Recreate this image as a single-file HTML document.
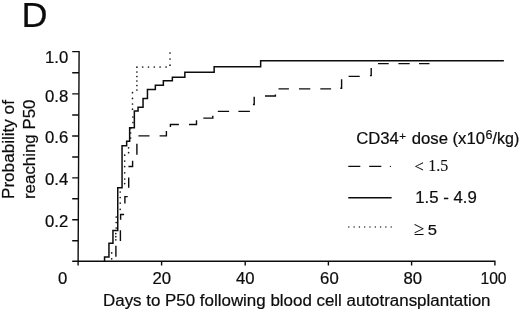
<!DOCTYPE html>
<html>
<head>
<meta charset="utf-8">
<title>Figure D</title>
<style>
html,body{margin:0;padding:0;background:#fff;}
body{width:520px;height:311px;overflow:hidden;position:relative;}
svg{position:absolute;left:0;top:0;display:block;}
text{font-family:"Liberation Sans",sans-serif;fill:#0c0c0c;stroke:#0c0c0c;stroke-width:0.2px;}
.s{font-family:"Liberation Serif",serif;stroke-width:0.1px;}
.ax{stroke:#0c0c0c;stroke-width:1.4;fill:none;}
.ln{stroke:#0c0c0c;stroke-width:1.5;fill:none;stroke-linejoin:miter;}
.da{stroke:#0c0c0c;stroke-width:1.4;fill:none;}
.dt{fill:#1a1a1a;}
</style>
</head>
<body>
<svg width="520" height="311" viewBox="0 0 520 311">
<rect x="0" y="0" width="520" height="311" fill="#fff"/>

<!-- panel letter -->
<text transform="translate(21.6 27.2) scale(1.03 1)" font-size="35" stroke-width="0.3">D</text>
<!-- axes -->
<path class="ax" d="M72.2 51.6H79.1L78.1 265.6M72.2 261.3L494.9 261.1V265.6"/>
<path class="ax" d="M72.2 72.8H79.0M72.2 93.9H78.9M72.2 115.0H78.8M72.2 136.0H78.7M72.2 157.0H78.6M72.2 177.9H78.5M72.2 198.8H78.4M72.2 219.8H78.3M72.2 240.7H78.2"/>
<path class="ax" d="M161.6 261.3V265.6M245.2 261.3V265.6M328.4 261.2V265.6M411.6 261.2V265.6"/>
<!-- y tick labels -->
<text transform="translate(68.3 62.5) scale(1.065 1)" font-size="15.7" text-anchor="end">1.0</text>
<text transform="translate(68.3 101.5) scale(1.065 1)" font-size="15.7" text-anchor="end">0.8</text>
<text transform="translate(68.3 143.4) scale(1.065 1)" font-size="15.7" text-anchor="end">0.6</text>
<text transform="translate(68.3 185.3) scale(1.065 1)" font-size="15.7" text-anchor="end">0.4</text>
<text transform="translate(68.3 227.1) scale(1.065 1)" font-size="15.7" text-anchor="end">0.2</text>
<!-- x tick labels -->
<text transform="translate(62.7 283.8) scale(1.065 1)" font-size="15.7" text-anchor="middle">0</text>
<text transform="translate(161.8 283.8) scale(1.065 1)" font-size="15.7" text-anchor="middle">20</text>
<text transform="translate(245.2 283.8) scale(1.065 1)" font-size="15.7" text-anchor="middle">40</text>
<text transform="translate(329.4 283.8) scale(1.065 1)" font-size="15.7" text-anchor="middle">60</text>
<text transform="translate(412.8 283.8) scale(1.065 1)" font-size="15.7" text-anchor="middle">80</text>
<text transform="translate(493.5 283.8) scale(1.0 1)" font-size="15.7" text-anchor="middle">100</text>
<!-- axis titles -->
<text x="103" y="305.5" font-size="15.8" textLength="387.5" lengthAdjust="spacingAndGlyphs">Days to P50 following blood cell autotransplantation</text>
<text transform="translate(13.5 199) rotate(-90)" font-size="15.8" textLength="98.9" lengthAdjust="spacingAndGlyphs">Probability of</text>
<text transform="translate(35.1 199) rotate(-90)" font-size="15.8" textLength="99.4" lengthAdjust="spacingAndGlyphs">reaching P50</text>
<!-- solid curve: 1.5 - 4.9 -->
<path class="ln" transform="translate(0.35 0.35)" d="M104.2 261.3V256.7H108.6V242.8H112.6V230.2H117.4V187.4H121.7V145.5H126.3V140.8H129.3V127.3H134V110.6H137.7V106.8H142.7V98.2H147.1V89.1H155V85H163V80.5H172V77H184.5V71.8H213.8V66.3H260.3V60.5H503.5"/>
<!-- dashed curve: < 1.5 -->
<path class="da" transform="translate(0.1 0.45)" d="M115.8 256.3V245.2M120.3 240.5V229.7M120.5 219.3V214H124M124.8 203.1V196.2H127.6M128.6 187.4V177M128.3 166H132.5V160.4M136.8 154.3V143.2M138.3 135.4H149.4M159.5 135.4H166.3V130.5M170.3 126.5V124H178.8M188.9 124H196.4V119.7M203.2 117.7H212.7V115.2M217.7 110.9H229M238.3 110.9H249.8M252.8 104H254.1V96.2M264.9 95.6H275.3V94M278.4 88.4H288.8M298.9 88.4H310.2M320.2 88.4H331M340.2 87.8H341.5V78.9M348.5 75.9H359.6M369.8 75.2H371.1V67.6M377.9 63.2H388.6M398.3 63.2H409.6M418.9 63.2H429.4"/>
<!-- dotted curve: >= 5 -->
<g class="dt"><circle cx="111.7" cy="258.8" r="0.85"/><circle cx="111.7" cy="252.9" r="0.85"/><circle cx="115.8" cy="239.8" r="0.85"/><circle cx="115.8" cy="236.7" r="0.85"/><circle cx="115.8" cy="233.6" r="0.85"/><circle cx="116.2" cy="228" r="0.85"/><circle cx="116.2" cy="222.5" r="0.85"/><circle cx="116.2" cy="217" r="0.85"/><circle cx="120.2" cy="209.3" r="0.85"/><circle cx="120.2" cy="203.1" r="0.85"/><circle cx="120.2" cy="197.5" r="0.85"/><circle cx="120.2" cy="192" r="0.85"/><circle cx="124.7" cy="183.6" r="0.85"/><circle cx="124.7" cy="179" r="0.85"/><circle cx="124.7" cy="172.8" r="0.85"/><circle cx="124.7" cy="166.6" r="0.85"/><circle cx="124.7" cy="161.1" r="0.85"/><circle cx="124.7" cy="155.2" r="0.85"/><circle cx="128.6" cy="152.7" r="0.85"/><circle cx="128.6" cy="147.8" r="0.85"/><circle cx="130.6" cy="138" r="0.85"/><circle cx="130.6" cy="133" r="0.85"/><circle cx="130.6" cy="128.5" r="0.85"/><circle cx="132.9" cy="122.5" r="0.85"/><circle cx="132.9" cy="117" r="0.85"/><circle cx="132.5" cy="109.2" r="0.85"/><circle cx="132.5" cy="104" r="0.85"/><circle cx="132.5" cy="98.4" r="0.85"/><circle cx="132.5" cy="92.7" r="0.85"/><circle cx="136.9" cy="90" r="0.85"/><circle cx="136.9" cy="85.5" r="0.85"/><circle cx="136.9" cy="81" r="0.85"/><circle cx="136.9" cy="76.5" r="0.85"/><circle cx="136.9" cy="72" r="0.85"/><circle cx="136.9" cy="67.2" r="0.85"/><circle cx="142.7" cy="67" r="0.85"/><circle cx="148.5" cy="67" r="0.85"/><circle cx="154.3" cy="67" r="0.85"/><circle cx="160.1" cy="67" r="0.85"/><circle cx="166.1" cy="67" r="0.85"/><circle cx="170" cy="65.2" r="0.85"/><circle cx="170" cy="59" r="0.85"/><circle cx="170" cy="53" r="0.85"/></g>
<!-- legend -->
<text transform="translate(356.2 143.6) scale(1.058 1)" font-size="15.8">CD34</text>
<text transform="translate(399.2 140.1) scale(1.0 1)" font-size="11.5">+</text>
<text transform="translate(411.7 143.6) scale(1.058 1)" font-size="15.8">dose (x10</text>
<text transform="translate(485.6 138.6) scale(1.0 1)" font-size="12.5">6</text>
<text transform="translate(492.6 143.6) scale(1.012 1)" font-size="15.8">/kg)</text>
<path class="da" stroke-width="1.3" d="M348.3 166.4H360.3M369.2 166.4H381.3"/>
<circle class="dt" cx="390.4" cy="166.4" r="0.65"/>
<text transform="translate(414.2 171.5) scale(1.0 1)" font-size="17" class="s">&lt;</text>
<text transform="translate(428.2 171.2) scale(1.0 1)" font-size="16" class="s">1.5</text>
<path class="ax" stroke-width="1.5" d="M348.3 197.8H391.6"/>
<text transform="translate(415.2 202.5) scale(1.07 1)" font-size="15.7">1.5 - 4.9</text>
<g class="dt"><circle cx="348.8" cy="227" r="0.7"/><circle cx="354.1" cy="227" r="0.7"/><circle cx="359.40000000000003" cy="227" r="0.7"/><circle cx="364.7" cy="227" r="0.7"/><circle cx="370.0" cy="227" r="0.7"/><circle cx="375.3" cy="227" r="0.7"/><circle cx="380.6" cy="227" r="0.7"/><circle cx="385.90000000000003" cy="227" r="0.7"/><circle cx="391.2" cy="227" r="0.7"/></g>
<text transform="translate(413.8 234.6) scale(1.0 1)" font-size="19" class="s">≥</text>
<text transform="translate(427.8 234.7) scale(1.09 1)" font-size="15.2">5</text>
</svg>
</body>
</html>
